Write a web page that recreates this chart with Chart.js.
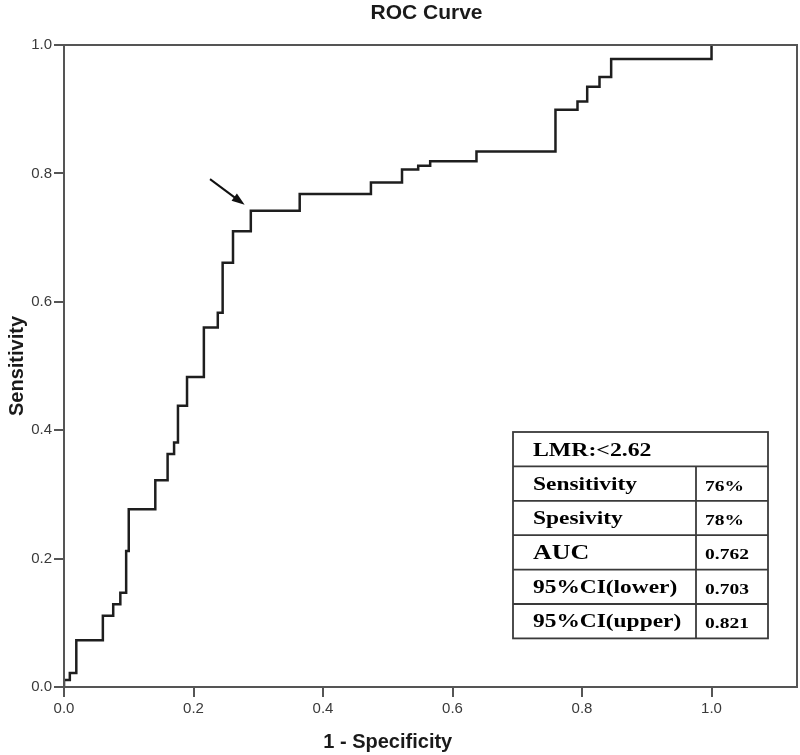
<!DOCTYPE html>
<html>
<head>
<meta charset="utf-8">
<script src="https://cdn.jsdelivr.net/npm/chart.js@4.4.0/dist/chart.umd.min.js"></script>
<style>
html, body { margin: 0; padding: 0; background: #fff; }
#wrap { width: 800px; height: 755px; }
</style>
</head>
<body>
<div id="wrap"><canvas id="rocChart" width="800" height="755"></canvas></div>
<script>
// ROC points (1 - specificity, sensitivity)
const fpr = [0, 0, 0.009, 0.009, 0.019, 0.019, 0.060, 0.060, 0.076, 0.076, 0.087, 0.087,
    0.096, 0.096, 0.100, 0.100, 0.141, 0.141, 0.160, 0.160, 0.170, 0.170, 0.176, 0.176,
    0.190, 0.190, 0.216, 0.216, 0.2375, 0.2375, 0.245, 0.245, 0.261, 0.261, 0.2885, 0.2885,
    0.364, 0.364, 0.474, 0.474, 0.522, 0.522, 0.547, 0.547, 0.5655, 0.5655, 0.637, 0.637,
    0.759, 0.759, 0.793, 0.793, 0.808, 0.808, 0.827, 0.827, 0.845, 0.845, 1.0, 1.0];
const tpr = [0, 0.011, 0.011, 0.022, 0.022, 0.073, 0.073, 0.111, 0.111, 0.129, 0.129, 0.147,
    0.147, 0.212, 0.212, 0.277, 0.277, 0.322, 0.322, 0.363, 0.363, 0.381, 0.381, 0.438,
    0.438, 0.483, 0.483, 0.560, 0.560, 0.583, 0.583, 0.661, 0.661, 0.710, 0.710, 0.742,
    0.742, 0.768, 0.768, 0.786, 0.786, 0.806, 0.806, 0.812, 0.812, 0.819, 0.819, 0.834,
    0.834, 0.899, 0.899, 0.912, 0.912, 0.935, 0.935, 0.950, 0.950, 0.978, 0.978, 1.0];

const xTicks = [0, 0.2, 0.4, 0.6, 0.8, 1.0];
const yTicks = [0, 0.2, 0.4, 0.6, 0.8, 1.0];

const tableTitle = "LMR:<2.62";
const tableLabels = ["Sensitivity", "Spesivity", "AUC", "95%CI(lower)", "95%CI(upper)"];
const tableValues = ["76%", "78%", "0.762", "0.703", "0.821"];

// arrow pointing at the cut-off, in data units
const arrowFrom = [0.2255, 0.791];
const arrowTo = [0.279, 0.751];

// ==================== extra drawing ====================
function stretchedText(ctx, text, x, y, sx) {
    ctx.save();
    ctx.translate(x, y);
    ctx.scale(sx, 1);
    ctx.fillText(text, 0, 0);
    ctx.restore();
}

const decorPlugin = {
    id: "decor",
    afterDraw(chart) {
        const ctx = chart.ctx;
        const a = chart.chartArea;
        const xs = chart.scales.x, ys = chart.scales.y;
        ctx.save();

        // frame
        ctx.strokeStyle = "#555";
        ctx.lineWidth = 2;
        ctx.strokeRect(a.left, a.top, a.right - a.left, a.bottom - a.top);

        // titles
        ctx.fillStyle = "#1a1a1a";
        ctx.textAlign = "center";
        ctx.textBaseline = "alphabetic";
        ctx.font = "bold 21px 'Liberation Sans', Arial, sans-serif";
        ctx.fillText("ROC Curve", (a.left + a.right) / 2 - 4, 19);

        ctx.font = "bold 20px 'Liberation Sans', Arial, sans-serif";
        ctx.fillText("1 - Specificity", (xs.getPixelForValue(0) + xs.getPixelForValue(1)) / 2, 748);

        ctx.save();
        ctx.translate(23, (a.top + a.bottom) / 2);
        ctx.rotate(-Math.PI / 2);
        ctx.fillText("Sensitivity", 0, 0);
        ctx.restore();

        // arrow
        const x1 = xs.getPixelForValue(arrowFrom[0]), y1 = ys.getPixelForValue(arrowFrom[1]);
        const x2 = xs.getPixelForValue(arrowTo[0]), y2 = ys.getPixelForValue(arrowTo[1]);
        const ang = Math.atan2(y2 - y1, x2 - x1);
        ctx.strokeStyle = "#111";
        ctx.fillStyle = "#111";
        ctx.lineWidth = 2;
        ctx.beginPath();
        ctx.moveTo(x1, y1);
        ctx.lineTo(x2 - 8 * Math.cos(ang), y2 - 8 * Math.sin(ang));
        ctx.stroke();
        ctx.beginPath();
        ctx.moveTo(x2, y2);
        ctx.lineTo(x2 - 13 * Math.cos(ang) + 4.5 * Math.sin(ang), y2 - 13 * Math.sin(ang) - 4.5 * Math.cos(ang));
        ctx.lineTo(x2 - 13 * Math.cos(ang) - 4.5 * Math.sin(ang), y2 - 13 * Math.sin(ang) + 4.5 * Math.cos(ang));
        ctx.closePath();
        ctx.fill();

        // stats table
        const tl = a.right - 284, tr = a.right - 29, tt = 432, rowH = 34.4;
        const colX = tl + 183;
        const nRows = tableLabels.length + 1;
        ctx.fillStyle = "#fff";
        ctx.fillRect(tl, tt, tr - tl, rowH * nRows);
        ctx.strokeStyle = "#3a3a3a";
        ctx.lineWidth = 1.8;
        ctx.strokeRect(tl, tt, tr - tl, rowH * nRows);
        for (let i = 1; i < nRows; i++) {
            ctx.beginPath();
            ctx.moveTo(tl, tt + i * rowH);
            ctx.lineTo(tr, tt + i * rowH);
            ctx.stroke();
        }
        ctx.beginPath();
        ctx.moveTo(colX, tt + rowH);
        ctx.lineTo(colX, tt + rowH * nRows);
        ctx.stroke();

        ctx.fillStyle = "#000";
        ctx.textAlign = "left";
        ctx.textBaseline = "alphabetic";
        const serif = "'Liberation Serif', 'Times New Roman', serif";
        ctx.font = "bold 18px " + serif;
        stretchedText(ctx, tableTitle, tl + 20, tt + rowH / 2 + 7, 1.32);
        tableLabels.forEach((lab, i) => {
            const cy = tt + rowH * (i + 1) + rowH / 2;
            ctx.font = (lab === "AUC" ? "bold 20px " : "bold 18px ") + serif;
            stretchedText(ctx, lab, tl + 20, cy + (lab === "AUC" ? 7 : 6), 1.3);
            ctx.font = "bold 15px " + serif;
            stretchedText(ctx, tableValues[i], colX + 9, cy + 7, 1.3);
        });

        ctx.restore();
    }
};

// ==================== chart ====================
const points = fpr.map((x, i) => ({ x, y: tpr[i] }));
const tickFont = { family: "'Liberation Sans', Arial, sans-serif", size: 15 };

new Chart(document.getElementById("rocChart").getContext("2d"), {
    type: "line",
    data: {
        datasets: [{
            data: points,
            borderColor: "#1e1e1e",
            borderWidth: 2.5,
            pointRadius: 0,
            tension: 0,
            fill: false,
        }],
    },
    options: {
        responsive: false,
        animation: false,
        layout: { padding: { top: 45, right: 3, left: 0, bottom: 0 } },
        plugins: {
            legend: { display: false },
            tooltip: { enabled: false },
            title: { display: false },
        },
        scales: {
            x: {
                type: "linear",
                min: 0,
                max: 1.132,
                afterBuildTicks: s => { s.ticks = xTicks.map(v => ({ value: v })); },
                afterFit: s => { s.height = 68; },
                ticks: {
                    color: "#3a3a3a",
                    font: tickFont,
                    padding: 3,
                    maxRotation: 0,
                    callback: v => Number(v).toFixed(1),
                },
                grid: { drawOnChartArea: false, drawTicks: true, tickLength: 10, color: "#555", lineWidth: 2 },
                border: { display: false },
            },
            y: {
                type: "linear",
                min: 0,
                max: 1,
                afterBuildTicks: s => { s.ticks = yTicks.map(v => ({ value: v })); },
                afterFit: s => { s.width = 64; },
                ticks: {
                    color: "#3a3a3a",
                    font: tickFont,
                    padding: 2,
                    callback: v => Number(v).toFixed(1),
                },
                grid: { drawOnChartArea: false, drawTicks: true, tickLength: 10, color: "#555", lineWidth: 2 },
                border: { display: false },
            },
        },
    },
    plugins: [decorPlugin],
});
</script>
</body>
</html>
